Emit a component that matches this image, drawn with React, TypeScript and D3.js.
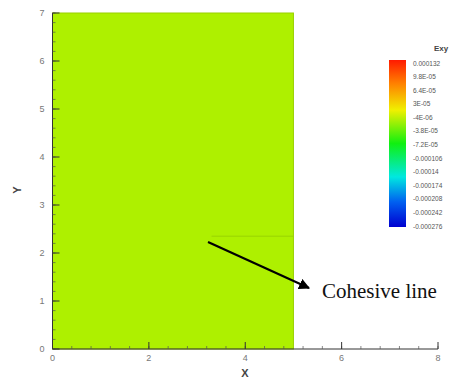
import React from "react";
import * as d3 from "d3";

const xTicks = [0, 2, 4, 6, 8];
const yTicks = [0, 1, 2, 3, 4, 5, 6, 7];
const domainX = [0, 5];
const domainY = [0, 7];
const cohesiveLine = { x0: 3.3, x1: 5, y: 2.35 };
const legendTitle = "Exy";
const legendLabels = [
  "0.000132", "9.8E-05", "6.4E-05", "3E-05", "-4E-06", "-3.8E-05", "-7.2E-05",
  "-0.000106", "-0.00014", "-0.000174", "-0.000208", "-0.000242", "-0.000276",
];
const legendStops = [
  { o: 0, c: "#ff1a00" },
  { o: 0.14, c: "#ff8000" },
  { o: 0.3, c: "#f0f000" },
  { o: 0.5, c: "#10f010" },
  { o: 0.7, c: "#00e8e0" },
  { o: 0.85, c: "#0060f0" },
  { o: 1, c: "#0000d0" },
];
const fieldColor = "#aef000";
const annotation = "Cohesive line";

export default function App() {
  const x = d3.scaleLinear().domain([0, 8]).range([52.5, 438]);
  const y = d3.scaleLinear().domain([0, 7]).range([349, 13]);
  const minorX = d3.range(0, 8.001, 0.4);
  const minorY = d3.range(0, 7.001, 0.2);
  const legY = d3.scaleLinear().domain([0, legendLabels.length - 1]).range([63, 226]);
  const tickColor = "#777";
  return (
    <svg width={464} height={381} style={{ position: "absolute", left: 0, top: 0 }} fontFamily="Liberation Sans, Arial, sans-serif">
      <defs>
        <linearGradient id="cb" x1="0" y1="0" x2="0" y2="1">
          {legendStops.map((s, i) => (
            <stop key={i} offset={s.o} stopColor={s.c} />
          ))}
        </linearGradient>
        <marker id="ah" viewBox="0 0 10 10" refX="9" refY="5" markerWidth="5" markerHeight="5" orient="auto">
          <path d="M0,0 L10,5 L0,10 z" fill="#000" />
        </marker>
      </defs>
      <rect x={x(domainX[0])} y={y(domainY[1])} width={x(domainX[1]) - x(domainX[0])} height={y(domainY[0]) - y(domainY[1])} fill={fieldColor} stroke="#9ad000" strokeWidth={1} />
      <line x1={x(cohesiveLine.x0)} x2={x(cohesiveLine.x1)} y1={y(cohesiveLine.y)} y2={y(cohesiveLine.y)} stroke="#98d400" strokeWidth={1} />
      <line x1={x(0)} x2={x(8)} y1={y(0)} y2={y(0)} stroke="#333" strokeWidth={1} />
      <line x1={x(0)} x2={x(0)} y1={y(0)} y2={y(7)} stroke="#333" strokeWidth={1} />
      {minorX.map((v, i) => (
        <line key={"mx" + i} x1={x(v)} x2={x(v)} y1={y(0)} y2={y(0) - 3} stroke="#555" strokeWidth={0.7} />
      ))}
      {xTicks.map((v) => (
        <g key={"x" + v}>
          <line x1={x(v)} x2={x(v)} y1={y(0)} y2={y(0) - 7} stroke="#333" strokeWidth={1} />
          <text x={x(v)} y={y(0) + 12} textAnchor="middle" fontSize={9} fill={tickColor}>{v}</text>
        </g>
      ))}
      {minorY.map((v, i) => (
        <line key={"my" + i} x1={x(0)} x2={x(0) + 3} y1={y(v)} y2={y(v)} stroke="#555" strokeWidth={0.7} />
      ))}
      {yTicks.map((v) => (
        <g key={"y" + v}>
          <line x1={x(0)} x2={x(0) + 7} y1={y(v)} y2={y(v)} stroke="#333" strokeWidth={1} />
          <text x={x(0) - 8} y={y(v) + 3} textAnchor="end" fontSize={9} fill={tickColor}>{v}</text>
        </g>
      ))}
      <text x={245} y={377} textAnchor="middle" fontSize={11} fontWeight="bold" fill="#444">X</text>
      <text transform="translate(21,190) rotate(-90)" textAnchor="middle" fontSize={11} fontWeight="bold" fill="#444">Y</text>
      <rect x={389} y={60} width={17} height={167} fill="url(#cb)" />
      <text x={441} y={51} textAnchor="middle" fontSize={8} fontWeight="bold" fill="#444">{legendTitle}</text>
      {legendLabels.map((l) => (
        <text key={l} x={413} y={legY(legendLabels.indexOf(l)) + 2.5} fontSize={6.5} fill="#555">{l}</text>
      ))}
      <line x1={208} y1={242} x2={309} y2={288} stroke="#000" strokeWidth={2.2} markerEnd="url(#ah)" />
      <text x={322} y={298} fontSize={21} fontFamily="Liberation Serif, serif" fill="#111">{annotation}</text>
    </svg>
  );
}
